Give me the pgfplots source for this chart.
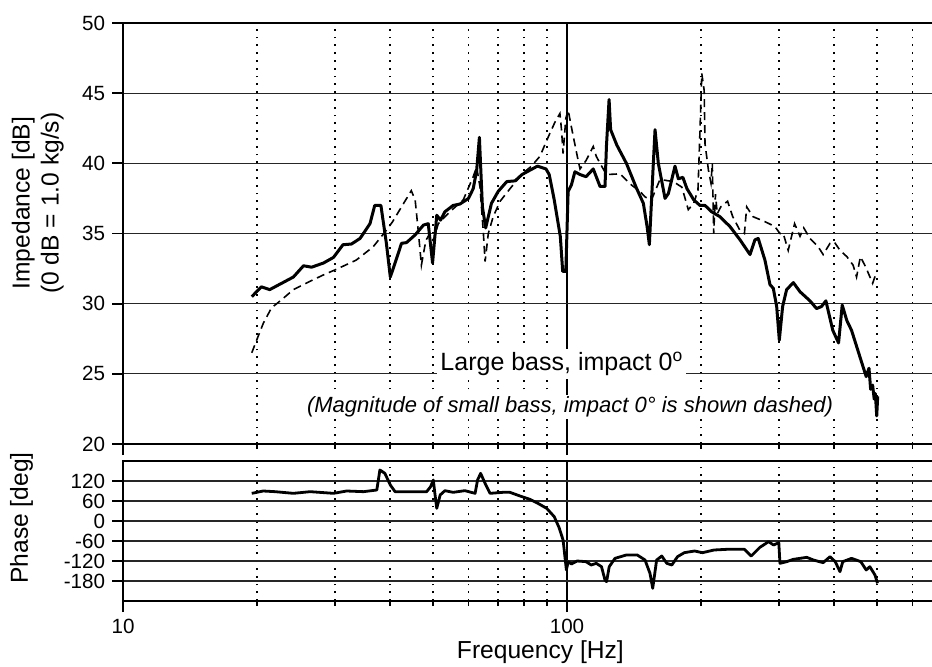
\documentclass[border=0pt]{standalone}
\usepackage{fontspec}
\setmainfont{Liberation Sans}
\usepackage{pgfplots}
\pgfplotsset{compat=1.18}

\tikzset{
  bigbass/.style={black, line width=1.5pt, line join=round},
  smallbass/.style={black, line width=0.8pt, dash pattern=on 4pt off 2.5pt},
}

\begin{document}
\begin{tikzpicture}
\path[use as bounding box] (0,0) rectangle (466pt,333pt);

% impedance magnitude
\begin{semilogxaxis}[
  scale only axis, width=406pt, height=210.5pt,
  at={(61.5pt,111pt)}, anchor=south west,
  xmin=10, xmax=674.5, ymin=20, ymax=50,
  axis line style={line width=1.2pt},
  tick align=outside, xtick pos=bottom, ytick pos=left,
  major tick length=5.5pt, minor tick length=2.5pt,
  major tick style={black, line width=0.9pt},
  minor tick style={black, line width=0.9pt},
  xtick={10,100},
  minor xtick={20,30,40,50,60,70,80,90,200,300,400,500,600},
  ytick={20,25,30,35,40,45,50},
  xticklabels={},
  grid=both,
  major x grid style={black, line width=1pt},
  minor x grid style={black, line width=0.9pt, dash pattern=on 0.9pt off 3pt},
  major y grid style={black!85, line width=0.6pt},
  tick label style={font=\fontsize{10.3}{12}\selectfont},
  label style={font=\fontsize{12.3}{14.5}\selectfont},
  /pgf/number format/assume math mode=true,
  ylabel={Impedance [dB]\\(0 dB = 1.0 kg/s)},
  ylabel style={align=center, at={(axis description cs:-0.105,0.572)}, anchor=center},
]
% large bass
\addplot[bigbass] coordinates {
(19.5,30.5) (20.5,31.2) (21.4,31.0) (24.2,31.9) (25.5,32.7) (26.6,32.6)
(28.3,32.9) (29.8,33.3) (31.3,34.2) (32.7,34.25) (34.2,34.65) (36.0,35.7)
(36.9,37.0) (38.1,37.0) (39.2,34.3) (40.0,31.9) (41.0,32.9) (42.4,34.3)
(43.5,34.35) (45.5,34.9) (47.5,35.6) (48.7,35.7) (49.8,32.9) (50.9,36.3)
(51.9,35.95) (53.1,36.55) (55.4,37.0) (57.4,37.1) (60.0,37.5) (61.5,38.2)
(62.6,39.5) (63.5,41.85) (64.5,36.9) (65.6,35.4) (67.6,37.15) (70,38.0)
(73.2,38.7) (76.4,38.75) (79.2,39.2) (81.3,39.4) (85.8,39.8) (89.7,39.6)
(91.2,39.2) (93.6,37.4) (96.6,34.8) (97.8,32.3) (99.4,32.3) (100.6,38.0)
(102.3,38.45) (104.2,39.4) (107,39.2) (110.4,39.05) (114.6,39.6) (118.7,38.35)
(121.8,38.35) (122.7,41.2) (124.4,44.55) (125.4,42.4) (129.5,41.3) (136.1,40.0)
(143.1,38.3) (148.6,37.15) (151.5,35.5) (153.3,34.2) (156.5,40.0) (157.9,42.4)
(160.6,40.0) (166.3,37.5) (169.2,37.85) (175.1,39.8) (178.2,38.9) (182.4,39.0)
(186.3,38.2) (193,37.4) (199.3,37.0) (204.6,37.0) (211.7,36.55) (221,36.2)
(232.8,35.5) (245.3,34.55) (258.4,33.5) (265,34.55) (269.6,34.65) (279.2,33.1)
(286.6,31.35) (291.5,31.1) (296.7,29.8) (300.8,27.4) (306,29.8) (312.4,31.0)
(323.5,31.5) (334.9,30.85) (352.7,30.2) (364.9,29.65) (374.4,29.8) (383,30.2)
(397,28.1) (409,27.2) (416.8,29.9) (426.9,28.8) (437.5,28.1) (457,26.2)
(472,24.8) (478.9,25.4) (483,23.9) (488,24.2) (492,23.2) (495,23.6)
(498.5,22.0) (501,23.4)
};
% small bass
\addplot[smallbass] coordinates {
(19.5,26.5) (20.0,27.4) (20.7,28.6) (21.6,29.7) (22.8,30.3) (24.2,31.0)
(26.4,31.6) (28.5,32.1) (30,32.4) (33.5,33.1) (36.6,34.05) (38.9,35.1)
(40.4,35.8) (42.4,36.9) (44.6,38.05) (45.5,37.4) (46.3,35.0) (47.0,32.75)
(48.1,34.5) (49.1,35.0) (50.0,34.5) (51.3,35.7) (54.5,36.55) (58.4,37.4)
(61.5,39.05) (62.6,39.75) (63.7,38.3) (64.8,35.1) (65.4,33.0) (66.5,35.0)
(68.2,36.2) (70.7,37.3) (74.9,38.3) (79.6,39.3) (83.2,39.8) (86.9,40.5)
(91.1,42.0) (94,42.95) (96.4,43.55) (97.2,42.4) (98,40.7) (99.4,43.2)
(100.6,43.8) (102.3,42.6) (105.5,40.5) (107,39.6) (110.4,40.2) (114.6,41.2)
(116.4,40.5) (118.7,40.0) (122.7,39.2) (131.6,39.25) (139.8,38.45) (146,38.0)
(150,37.6) (155,37.4) (162,38.85) (173.6,38.7) (181.5,38.3) (187.6,36.7)
(193,37.15) (197.3,38.1) (199.5,42.6) (201.2,46.4) (203.7,45.2) (204.6,41.4)
(208.3,39.5) (211,38.6) (212.5,40.0) (214,35.0) (216,37.8) (218,36.4)
(222,36.9) (230,37.3) (236.2,36.2) (245,35.25) (251,35.0) (254,36.9)
(262.4,36.2) (279,35.85) (293.8,35.5) (301.8,35.0) (307,35.0) (315,33.8)
(325.6,35.7) (334.9,34.8) (341.4,35.4) (352.7,34.65) (368,34.05) (377.6,33.5)
(391.3,34.3) (400,34.4) (412,33.8) (427,33.35) (441,32.75) (449,31.9)
(458,33.35) (471,32.6) (488,31.45) (500,32.4)
};
\node[fill=white, inner sep=1.5pt, font=\fontsize{12.5}{15}\selectfont]
  at (axis cs:97.4,25.7) {Large bass, impact 0\textsuperscript{o}};
\node[fill=white, inner sep=1pt, font=\itshape\fontsize{11}{13}\selectfont]
  at (axis cs:101.6,22.64) {(Magnitude of small bass, impact 0° is shown dashed)};
\end{semilogxaxis}

% phase
\begin{semilogxaxis}[
  scale only axis, width=406pt, height=70pt,
  at={(61.5pt,32.5pt)}, anchor=south west,
  xmin=10, xmax=674.5, ymin=-240, ymax=180,
  axis line style={line width=1.2pt},
  tick align=outside, xtick pos=bottom, ytick pos=left,
  major tick length=5.5pt, minor tick length=2.5pt,
  major tick style={black, line width=0.9pt},
  minor tick style={black, line width=0.9pt},
  xtick={10,100},
  minor xtick={20,30,40,50,60,70,80,90,200,300,400,500,600},
  ytick={-180,-120,-60,0,60,120},
  xticklabels={10,100},
  grid=both,
  major x grid style={black, line width=1pt},
  minor x grid style={black, line width=0.9pt, dash pattern=on 0.9pt off 3pt},
  major y grid style={black!85, line width=0.6pt},
  tick label style={font=\fontsize{10.3}{12}\selectfont},
  label style={font=\fontsize{12.3}{14.5}\selectfont},
  /pgf/number format/assume math mode=true,
  xlabel={Frequency [Hz]},
  xlabel style={at={(axis description cs:0.514,-0.364)}, anchor=center},
  ylabel={Phase [deg]},
  ylabel style={at={(axis description cs:-0.125,0.593)}, anchor=center},
]
\addplot[bigbass, line width=1.4pt] coordinates {
(19.5,83) (20.7,90) (22,88) (24.2,83) (26.4,88) (29.8,83) (31.9,90)
(34.8,88) (37.3,93) (37.9,153) (38.9,143) (40,108) (41,88) (45,88)
(48.3,88) (49.3,103) (50,123) (50.4,83) (50.9,38) (51.8,78) (53.1,91)
(55.4,86) (58.9,91) (62.1,83) (62.9,123) (63.9,143) (65.4,113) (67.1,83)
(71.7,86) (74.4,86) (78.4,75) (82.5,65) (86,53) (90,38) (93.6,13)
(96,-20) (98,-57) (99.7,-147) (100.6,-122) (102.3,-129) (105.5,-120)
(110.4,-122) (113.4,-132) (116.4,-127) (119.6,-137) (121.8,-177) (122.8,-182)
(124.5,-137) (128.3,-112) (136,-102) (144,-102) (149.9,-117) (153.8,-157)
(156,-202) (159.2,-117) (163.5,-105) (167.8,-127) (172.3,-132) (177.4,-107)
(183.8,-95) (193.8,-90) (202,-95) (214.4,-87) (228.7,-85) (251,-85)
(260,-105) (272,-79) (284.5,-62) (292,-72) (300,-65) (301.8,-127)
(312.4,-122) (323.5,-115) (346.8,-109) (359,-117) (377.6,-125) (391.3,-107)
(402,-122) (412,-152) (418,-122) (437.5,-112) (459,-122) (472,-147)
(481,-137) (494,-162) (500.6,-187)
};
\end{semilogxaxis}
\end{tikzpicture}
\end{document}
